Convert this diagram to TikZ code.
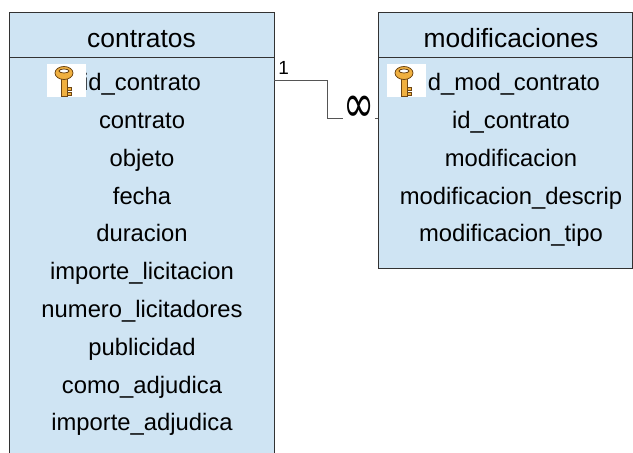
\documentclass[tikz,border=0pt]{standalone}
\usepackage{fontspec}
\setmainfont{Liberation Sans}
\newfontfamily\symbolfont{DejaVu Sans}
\usepackage{tikz}
\usetikzlibrary{positioning}

\definecolor{tablefill}{RGB}{207,228,243}
\definecolor{tableline}{RGB}{50,50,50}
\definecolor{relgray}{RGB}{85,85,85}
\definecolor{keygold}{RGB}{240,176,64}
\definecolor{keydark}{RGB}{110,70,20}

\begin{document}
\begin{tikzpicture}[x=0.5pt, y=-0.5pt,
    tablebox/.style={draw=tableline, fill=tablefill, line width=0.5pt},
    tabletitle/.style={font=\fontsize{13.2}{15}\selectfont, anchor=base, inner sep=0pt},
    field/.style={font=\fontsize{11.9}{14}\selectfont, anchor=base, inner sep=0pt},
    relline/.style={draw=relgray, line width=0.5pt},
    keypart/.style={fill=keygold, draw=keydark, line width=0.4pt}]
    \clip (0,0) rectangle (633,453);

    % Tables
    \draw[tablebox] (9,13) rectangle (274,470);
    \draw[tablebox] (378,13) rectangle (632,269);
    \draw[tableline, line width=0.5pt] (9,58) -- (274,58);
    \draw[tableline, line width=0.5pt] (378,58) -- (632,58);
    \node[tabletitle] (contratos) at (141.5,47.7) {contratos};
    \node[tabletitle] (modificaciones) at (511,47.7) {modificaciones};

    % Fields
    \foreach \f [count=\i from 0] in {id\_contrato, contrato, objeto, fecha, duracion,
        importe\_licitacion, numero\_licitadores, publicidad, como\_adjudica, importe\_adjudica}
        \node[field] (contratos-\i) at (142, 90.7+37.8*\i) {\f};
    \foreach \f/\x [count=\i from 0] in {d\_mod\_contrato/514, id\_contrato/511, modificacion/511,
        modificacion\_descrip/511, modificacion\_tipo/511}
        \node[field] (modificaciones-\i) at (\x, 90.7+37.8*\i) {\f};

    % Primary keys
    \foreach \kx in {47,387} {
        \begin{scope}[shift={(\kx,64)}]
            \fill[white] (0,0) rectangle (39,33);
            \filldraw[keypart] (14,13) rectangle (20,32);
            \filldraw[keypart] (20,23) rectangle (24,26);
            \filldraw[keypart] (20,28) rectangle (24,31);
            \filldraw[keypart] (17,9) ellipse [x radius=9, y radius=6.5];
            \filldraw[fill=white, draw=keydark, line width=0.4pt] (17,7) ellipse [x radius=5, y radius=2];
        \end{scope}
    }

    % Relation
    \coordinate (rel-from) at (274,81);
    \coordinate (rel-to) at (378,119);
    \node[font=\fontsize{9.5}{11}\selectfont, anchor=base west, inner sep=0pt] (one) at (278,75) {1};
    \node[font=\symbolfont\fontsize{17}{19}\selectfont, anchor=base, inner sep=0pt] (many) at (359,123) {\scalebox{1.1}[1.6]{∞}};
    \draw[relline] (rel-from) -- ++(53,0) |- (many.west |- rel-to);
    \draw[relline] (many.east |- rel-to) -- (rel-to);
\end{tikzpicture}
\end{document}
